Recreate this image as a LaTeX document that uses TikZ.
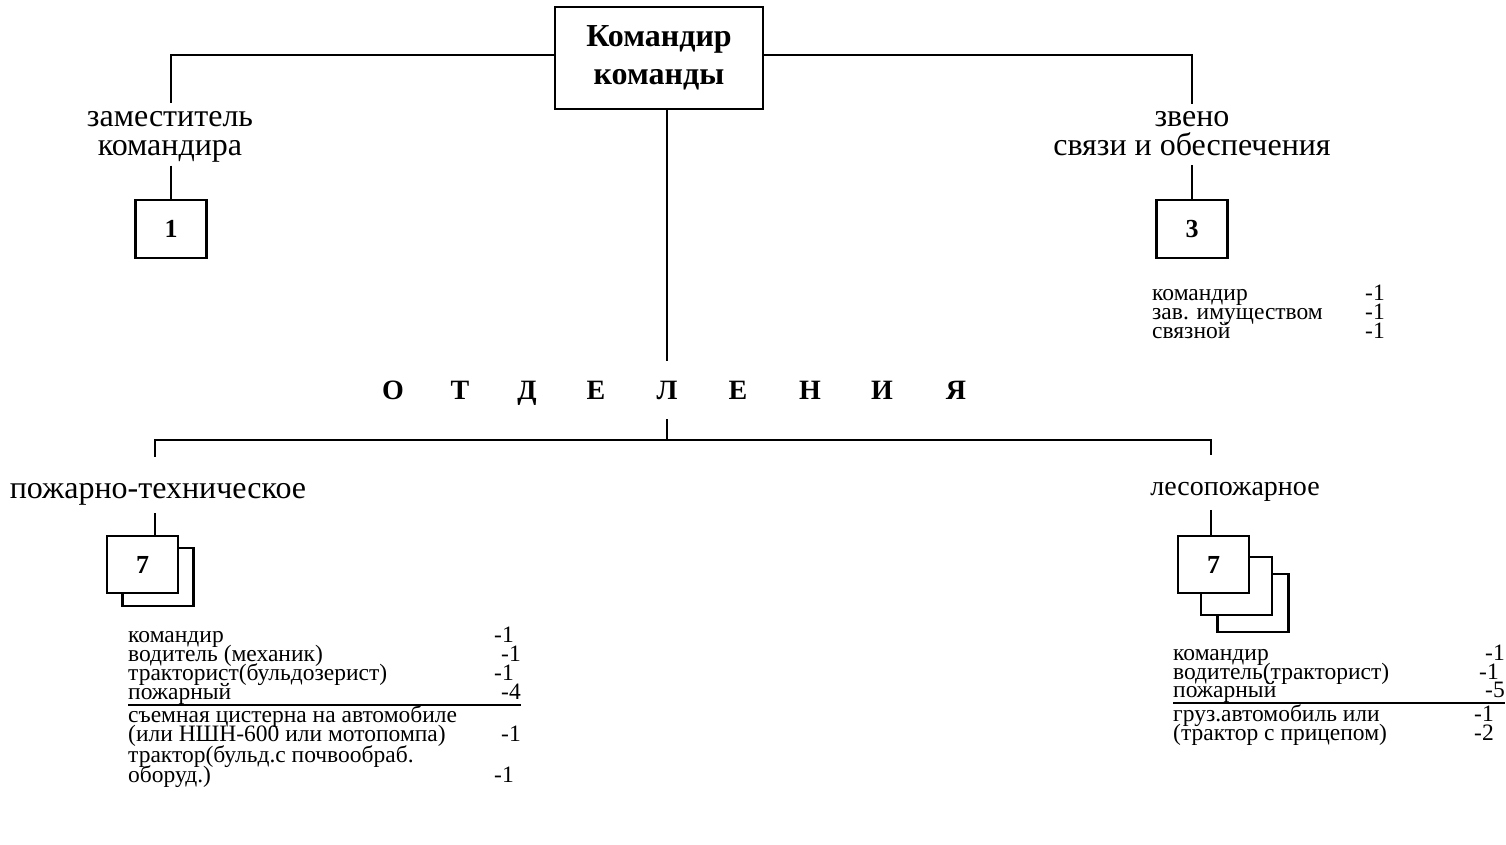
\documentclass[tikz,border=0pt]{standalone}
\usepackage{fontspec}
\setmainfont{Liberation Serif}
\usetikzlibrary{positioning,calc}

\tikzset{
  conn/.style={line width=1.8pt},
  unitbox/.style={draw,line width=2.2pt,fill=white,minimum width=71pt,minimum height=58pt,inner sep=0pt,font=\fontsize{26}{26}\selectfont\bfseries},
  backbox/.style={draw,line width=2.2pt,fill=white,minimum width=71pt,minimum height=58pt,inner sep=0pt},
  lbl/.style={align=center,inner sep=0pt,font=\fontsize{32}{29}\selectfont},
  lst/.style={anchor=base west,inner sep=0pt,font=\fontsize{23.5}{20}\selectfont},
  num/.style={anchor=base east,inner sep=0pt,font=\fontsize{23.5}{20}\selectfont},
}

\begin{document}
\begin{tikzpicture}[x=1pt,y=-1pt]
\useasboundingbox (0,0) rectangle (1506,845);

% head of the team
\node[draw,line width=2.2pt,minimum width=208pt,minimum height=102pt,align=center,
  font=\fontsize{32}{38}\selectfont\bfseries] (chief) at (659,58) {Командир\\команды};

% deputy and support link
\node[lbl] (zam) at (170,137) {заместитель\\командира};
\node[unitbox] (box1) at (171,229) {1};
\node[lbl] (zveno) at (1192,134) {звено\\связи и обеспечения};
\node[unitbox] (box3) at (1192,229) {3};

\draw[conn] ([yshift=3pt]chief.west) -| ([xshift=1pt,yshift=8pt]zam.north);
\draw[conn] ([yshift=3pt]chief.east) -| ([yshift=8pt]zveno.north);
\draw[conn] ([xshift=1pt,yshift=-3pt]zam.south) -- (box1.north);
\draw[conn] ([yshift=-9pt]zveno.south) -- (box3.north);

\foreach \t/\n/\ny [count=\i] in {командир/-1/300, зав. имуществом/-1/319, связной/-1/338}{
  \node[lst] (zl\i) at (1152,\ny) {\t};
  \node[num] (zn\i) at (1385,\ny) {\n};
}

% spaced title of the sections
\foreach \ch/\px [count=\i] in {О/393, Т/460, Д/527, Е/596, Л/667, Е/738, Н/810, И/882, Я/956}{
  \node[anchor=base,inner sep=0pt,outer ysep=20pt,font=\fontsize{28}{28}\selectfont\bfseries] (o\i) at (\px,399) {\ch};
}
\draw[conn] (chief.south -| o5.north) -- (o5.north);

\coordinate (busL) at (155,440);
\coordinate (busR) at (1211,440);
\draw[conn] (o5.south) -- (o5.south |- busL);

\node[lbl] (pt) at (158,494) {пожарно-техническое};
\node[lbl,font=\fontsize{28}{28}\selectfont] (lp) at (1235,492) {лесопожарное};
\draw[conn] ([yshift=26pt]pt.north -| busL) -- (busL) -- (busR) -- ([yshift=27pt]lp.north -| busR);

% fire-technical section
\node[backbox] (pt2) at (158,577) {};
\node[unitbox,minimum height=57pt] (pt1) at (142.5,564.5) {7};
\draw[conn] ([yshift=-8pt]pt.south -| busL) -- (pt1.north -| busL);

\foreach \t/\n/\nx/\ny [count=\i] in {командир/-1/514/642, водитель (механик)/-1/521/661,
  тракторист(бульдозерист)/-1/514/680, пожарный/-4/521/699,
  съемная цистерна на автомобиле//521/722, (или НШН-600 или мотопомпа)/-1/521/741,
  трактор(бульд.с почвообраб./{}/521/762, оборуд.)/-1/514/782}{
  \node[lst] (pl\i) at (128,\ny) {\t};
  \node[num] (pn\i) at (\nx,\ny) {\n};
}
\draw[line width=2.4pt] (pl4.base west) ++(0,6) coordinate (ptu) -- (ptu -| pn4.east);

% forest fire section
\node[backbox] (lp3) at (1253,603) {};
\node[backbox] (lp2) at (1236.5,586) {};
\node[unitbox,minimum height=57pt] (lp1) at (1213.5,564.5) {7};
\draw[conn] ([yshift=-8pt]lp.south -| busR) -- (lp1.north -| busR);

\foreach \t/\n/\nx/\ny [count=\i] in {командир/-1/1505/660, водитель(тракторист)/-1/1499/679,
  пожарный/-5/1505/697, груз.автомобиль  или/-1/1494/721, (трактор с прицепом)/-2/1494/740}{
  \node[lst] (ll\i) at (1173,\ny) {\t};
  \node[num] (ln\i) at (\nx,\ny) {\n};
}
\draw[line width=2.4pt] (ll3.base west) ++(0,6) coordinate (lpu) -- (lpu -| ln3.east);
\end{tikzpicture}
\end{document}
